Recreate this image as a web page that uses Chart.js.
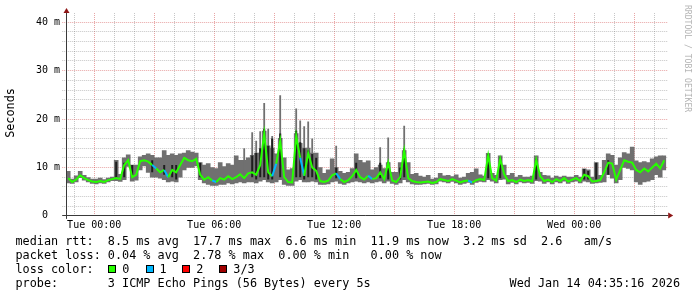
<!DOCTYPE html>
<html>
<head>
<meta charset="utf-8">
<script src="https://cdn.jsdelivr.net/npm/chart.js"></script>
<style>
    body { margin: 0; background: #fff; overflow: hidden; }
    #quadro { position: relative; width: 697px; height: 297px; font-family: "DejaVu Sans Mono", monospace; color: #000; }
    #quadro canvas { position: absolute; left: 0; top: 0; }
    .t { position: absolute; white-space: pre; font-size: 11.8px; line-height: 14px; }
    .caixa { position: absolute; top: 265px; width: 8px; height: 8px; box-sizing: border-box; border: 1px solid #000; }
</style>
</head>
<body>
<div id="quadro">
    <canvas id="graficoPing" width="697" height="297"></canvas>
    <div class="t" style="left:-39.7px;top:106px;width:100px;text-align:center;transform:rotate(-90deg)">Seconds</div>
    <div class="t" style="left:692.5px;top:5px;font-size:8.1px;line-height:10px;color:#b4b4b4;transform-origin:0 0;transform:rotate(90deg)">RRDTOOL / TOBI OETIKER</div>
    <div class="t" style="left:15.5px;top:234px">median rtt:  8.5 ms avg  17.7 ms max  6.6 ms min  11.9 ms now  3.2 ms sd  2.6   am/s</div>
    <div class="t" style="left:15.5px;top:248px">packet loss: 0.04 % avg  2.78 % max  0.00 % min   0.00 % now</div>
    <div class="t" style="left:15.5px;top:262px">loss color:</div>
    <div id="legendaPerda"></div>
    <div class="t" style="left:15.5px;top:276px">probe:       3 ICMP Echo Pings (56 Bytes) every 5s</div>
    <div class="t" style="right:17px;top:276px">Wed Jan 14 04:35:16 2026</div>
</div>
<script>
// eixo x em minutos desde seg 22:36, uma amostra a cada 12 min
const fim = 1800
const passo = 12

const mediana = [
    7.8, 7.0, 7.5, 8.4, 7.8, 7.4, 7.1, 7.0, 7.2, 7.0,
    7.4, 7.6, 7.8, 7.6, 10.5, 11.5, 8.0, 8.5, 11.3, 11.5,
    11.2, 10.5, 9.8, 9.0, 9.5, 8.0, 9.5, 9.0, 10.5, 12.0,
    11.5, 11.3, 11.8, 8.5, 7.5, 8.0, 7.3, 7.0, 7.8, 7.5,
    8.2, 7.6, 8.0, 8.6, 7.8, 8.8, 9.0, 8.5, 10.5, 17.0,
    9.0, 8.2, 10.8, 15.5, 8.0, 7.0, 6.9, 16.5, 12.0, 8.3,
    13.0, 10.0, 9.3, 7.2, 7.0, 7.3, 8.4, 8.8, 7.6, 7.0,
    7.4, 8.2, 9.5, 8.0, 7.5, 8.3, 7.6, 7.8, 9.0, 7.6,
    11.0, 7.3, 7.0, 8.0, 13.5, 7.8, 7.2, 7.0, 6.9, 7.0,
    7.1, 6.8, 7.0, 7.6, 7.4, 7.2, 7.6, 7.3, 6.9, 7.2,
    7.3, 6.9, 7.4, 7.6, 7.4, 12.5, 7.8, 7.3, 11.8, 8.6,
    7.2, 7.4, 7.0, 7.5, 7.2, 7.4, 7.1, 11.6, 8.2, 7.2,
    7.5, 7.0, 7.6, 7.2, 7.8, 7.1, 7.5, 7.8, 7.2, 8.5,
    8.2, 7.1, 7.2, 7.4, 9.0, 11.0, 10.8, 7.5, 9.5, 11.5,
    11.2, 11.0, 9.5, 9.0, 9.8, 9.2, 10.0, 10.8, 9.8, 11.5
]

const minimo = [
    6.8, 6.7, 7.0, 7.9, 7.4, 7.0, 6.7, 6.6, 6.8, 6.7,
    7.0, 7.3, 7.3, 7.1, 7.5, 10.2, 7.2, 7.4, 9.5, 10.3,
    9.0, 8.0, 8.0, 7.8, 7.5, 7.0, 7.2, 7.0, 8.0, 9.5,
    10.0, 10.0, 10.3, 7.5, 6.8, 6.5, 6.3, 6.3, 6.5, 6.5,
    6.8, 6.6, 6.8, 7.0, 6.8, 7.0, 7.0, 6.8, 7.2, 7.5,
    7.0, 6.8, 7.0, 7.5, 6.5, 6.3, 6.3, 7.2, 7.5, 7.0,
    7.0, 7.2, 7.0, 6.5, 6.5, 6.6, 7.0, 7.2, 6.7, 6.5,
    6.8, 7.0, 7.2, 7.0, 6.8, 7.0, 6.8, 7.0, 7.2, 6.8,
    7.2, 6.7, 6.5, 6.8, 7.5, 7.0, 6.6, 6.5, 6.5, 6.6,
    6.7, 6.5, 6.6, 7.2, 7.0, 6.8, 7.1, 6.8, 6.5, 6.7,
    6.9, 6.5, 6.9, 7.1, 7.0, 7.5, 7.2, 6.8, 7.5, 7.6,
    6.6, 6.9, 6.6, 7.0, 6.8, 6.9, 6.7, 7.3, 7.2, 6.7,
    7.0, 6.6, 7.0, 6.8, 7.2, 6.7, 7.0, 7.2, 6.8, 7.2,
    7.0, 6.7, 6.8, 6.9, 7.0, 8.5, 7.8, 6.8, 7.5, 10.0,
    9.8, 9.5, 7.0, 6.5, 7.0, 7.2, 7.5, 8.5, 8.0, 9.5
]

const maximo = [
    9.2, 7.6, 8.3, 9.2, 8.4, 7.9, 7.6, 7.6, 7.8, 7.5,
    7.8, 8.0, 11.5, 8.6, 12.0, 12.6, 10.5, 10.5, 12.2, 12.5,
    12.8, 12.5, 12.0, 12.0, 13.5, 12.5, 12.8, 12.5, 12.8, 13.0,
    13.5, 13.2, 13.0, 11.0, 10.5, 10.8, 10.0, 9.8, 11.0, 10.2,
    10.8, 10.5, 12.4, 11.5, 11.5, 12.0, 12.5, 13.0, 13.0, 17.5,
    14.5, 14.0, 12.8, 16.0, 12.0, 9.5, 9.8, 17.0, 15.0, 14.0,
    14.0, 13.0, 13.0, 10.0, 8.8, 9.5, 11.8, 10.0, 9.2, 8.8,
    9.0, 9.8, 12.8, 11.5, 11.0, 11.4, 9.5, 10.0, 10.5, 9.8,
    11.0, 9.0, 9.0, 11.0, 13.5, 11.0, 8.6, 8.8, 8.2, 8.0,
    8.4, 7.6, 7.8, 8.8, 8.3, 8.4, 8.1, 8.5, 7.8, 8.0,
    8.8, 9.0, 9.7, 8.5, 8.2, 12.9, 8.8, 8.4, 12.4, 10.5,
    8.4, 8.8, 8.0, 8.4, 8.0, 8.0, 8.2, 12.4, 9.0, 8.4,
    8.3, 7.8, 8.2, 8.0, 8.2, 8.0, 8.0, 8.4, 8.0, 9.7,
    9.5, 8.0, 11.0, 8.4, 11.5, 12.8, 12.5, 10.5, 12.0, 13.1,
    12.8, 14.2, 11.4, 11.0, 11.2, 11.0, 11.8, 12.2, 12.4, 12.4
]

// picos finos da fumaca (indice da amostra, ate)
const picoEm = [44, 46, 47, 48, 49, 50, 51, 53, 57, 58, 59, 60, 61, 67, 78, 80, 84]
const picoMax = [14.0, 17.3, 15.5, 17.5, 23.3, 18.0, 16.5, 24.9, 22.2, 19.7, 18.5, 19.5, 16.0, 14.5, 14.2, 16.2, 18.6]

// trechos escuros da fumaca (indice da amostra, de, ate)
const escuroEm = [12, 14, 16, 21, 24, 26, 27, 33, 46, 47, 48, 49, 50, 51, 53, 57, 58, 59, 60, 61, 62, 67, 72, 78, 80, 83, 84, 105, 108, 117, 129, 130, 132, 135]
const escuroMin = [7.6, 8.0, 8.0, 9.0, 8.5, 8.0, 7.5, 8.0, 8.0, 7.5, 8.0, 8.0, 7.5, 7.5, 8.0, 8.0, 8.0, 7.5, 8.0, 8.0, 7.5, 7.8, 7.8, 7.8, 7.5, 7.5, 8.0, 7.8, 7.8, 7.5, 7.5, 7.5, 7.5, 8.5]
const escuroMax = [11.2, 11.0, 10.5, 11.5, 10.5, 10.5, 10.5, 11.0, 12.5, 13.0, 14.0, 18.0, 14.5, 16.0, 17.0, 17.6, 15.2, 14.0, 13.5, 12.8, 12.0, 10.0, 11.0, 11.0, 11.2, 10.0, 13.9, 12.8, 12.1, 11.8, 9.7, 9.3, 11.0, 11.5]

// amostras com 1 ping perdido
const perdaUm = [0, 22, 25, 37, 52, 59, 68, 76, 101]

const horasMarcadas = [84, 444, 804, 1164, 1524]
const rotulosHoras = ['Tue 00:00', 'Tue 06:00', 'Tue 12:00', 'Tue 18:00', 'Wed 00:00']
const ticksY = [0, 10, 20, 30, 40]

const coresPerda = ['#26ff00', '#00b8ff', '#ff0000', '#a00000']
const rotulosPerda = ['0', '1', '2', '3/3']
const caixaX = [108, 146, 182, 219]
const textoX = [122.3, 159.5, 196.3, 233.3]

const vermelhoGrade = 'rgba(200, 40, 40, 0.42)'
const cinzaGrade = 'rgba(120, 120, 120, 0.42)'

const legendaPerda = document.getElementById('legendaPerda')
rotulosPerda.forEach((rotulo, i) => {
    let caixa = document.createElement('div')
    caixa.className = 'caixa'
    caixa.style.left = caixaX[i] + 'px'
    caixa.style.background = coresPerda[i]
    legendaPerda.appendChild(caixa)
    let texto = document.createElement('div')
    texto.className = 't'
    texto.style.left = textoX[i] + 'px'
    texto.style.top = '262px'
    texto.textContent = rotulo
    legendaPerda.appendChild(texto)
})

function minutoDaAmostra(i) {
    return i * passo + passo / 2
}

const grade = {
    id: 'grade',
    beforeDatasetsDraw(chart) {
        const { ctx, chartArea: area, scales: { x, y } } = chart
        ctx.save()
        ctx.lineWidth = 1
        ctx.setLineDash([1, 1])
        for (let m = 24; m < fim; m += 60) {
            let px = Math.floor(x.getPixelForValue(m)) + 0.5
            ctx.strokeStyle = (m - 84) % 180 === 0 ? vermelhoGrade : cinzaGrade
            ctx.beginPath()
            ctx.moveTo(px, area.top - 2)
            ctx.lineTo(px, area.bottom)
            ctx.stroke()
        }
        for (let v = 2; v <= 40; v += 2) {
            let py = Math.floor(y.getPixelForValue(v)) + 0.5
            ctx.strokeStyle = v % 10 === 0 ? vermelhoGrade : cinzaGrade
            ctx.beginPath()
            ctx.moveTo(area.left - 4, py)
            ctx.lineTo(area.right + 2, py)
            ctx.stroke()
        }
        ctx.restore()
    }
}

const eixos = {
    id: 'eixos',
    afterDatasetsDraw(chart) {
        const { ctx, chartArea: area } = chart
        const x0 = Math.floor(area.left) + 0.5
        const y0 = Math.floor(area.bottom) + 0.5
        ctx.save()
        ctx.strokeStyle = '#3a3a3a'
        ctx.lineWidth = 1
        ctx.beginPath()
        ctx.moveTo(area.left - 4, y0)
        ctx.lineTo(area.right + 2, y0)
        ctx.moveTo(x0, area.bottom + 3)
        ctx.lineTo(x0, area.top - 3)
        ctx.stroke()
        ctx.fillStyle = '#8e1515'
        ctx.beginPath()
        ctx.moveTo(x0, area.top - 7)
        ctx.lineTo(x0 - 3, area.top - 2)
        ctx.lineTo(x0 + 3, area.top - 2)
        ctx.fill()
        ctx.beginPath()
        ctx.moveTo(area.right + 7, y0)
        ctx.lineTo(area.right + 2, y0 - 3)
        ctx.lineTo(area.right + 2, y0 + 3)
        ctx.fill()
        ctx.restore()
    }
}

const fonteTick = { family: 'DejaVu Sans Mono', size: 10 }

const graficoPing = new Chart(document.getElementById('graficoPing'), {
    type: 'line',
    data: {
        datasets: [{
            type: 'bar',
            label: 'fumaca',
            data: mediana.map((v, i) => ({ x: minutoDaAmostra(i), y: [minimo[i], maximo[i]] })),
            backgroundColor: '#707070',
            borderWidth: 0,
            grouped: false,
            barPercentage: 1,
            categoryPercentage: 1,
            order: 4
        }, {
            type: 'bar',
            label: 'picos',
            data: picoEm.map((i, k) => ({ x: minutoDaAmostra(i), y: [minimo[i], picoMax[k]] })),
            backgroundColor: '#707070',
            borderWidth: 0,
            grouped: false,
            barPercentage: 0.45,
            categoryPercentage: 1,
            order: 3
        }, {
            type: 'bar',
            label: 'escuro',
            data: escuroEm.map((i, k) => ({ x: minutoDaAmostra(i), y: [escuroMin[k], escuroMax[k]] })),
            backgroundColor: '#1e1e1e',
            borderWidth: 0,
            grouped: false,
            barPercentage: 0.5,
            categoryPercentage: 1,
            order: 2
        }, {
            type: 'line',
            label: 'median rtt',
            data: mediana.map((v, i) => ({ x: minutoDaAmostra(i), y: v })),
            borderColor: coresPerda[0],
            borderWidth: 2,
            pointRadius: 0,
            tension: 0,
            segment: {
                borderColor: c => perdaUm.includes(c.p1DataIndex) ? coresPerda[1] : coresPerda[0]
            },
            order: 1
        }]
    },
    options: {
        responsive: false,
        animation: false,
        devicePixelRatio: 1,
        layout: { padding: { left: 0, top: 15, right: 30.8, bottom: 0 } },
        plugins: { legend: { display: false }, tooltip: { enabled: false } },
        scales: {
            x: {
                type: 'linear',
                min: 0,
                max: fim,
                offset: false,
                grid: { display: false, drawTicks: false },
                border: { display: false },
                afterBuildTicks: s => { s.ticks = horasMarcadas.map(v => ({ value: v })) },
                afterFit: s => { s.height = 81.1 },
                ticks: {
                    autoSkip: false,
                    maxRotation: 0,
                    padding: 4,
                    color: '#000',
                    font: fonteTick,
                    callback: (v, i) => rotulosHoras[i]
                }
            },
            y: {
                min: 0,
                max: 41.5,
                grid: { display: false, drawTicks: false },
                border: { display: false },
                afterBuildTicks: s => { s.ticks = ticksY.map(v => ({ value: v })) },
                afterFit: s => { s.width = 66.2 },
                ticks: {
                    autoSkip: false,
                    padding: 6.2,
                    color: '#000',
                    font: fonteTick,
                    callback: v => v === 0 ? '0  ' : v + ' m'
                }
            }
        }
    },
    plugins: [grade, eixos]
})
</script>
</body>
</html>
